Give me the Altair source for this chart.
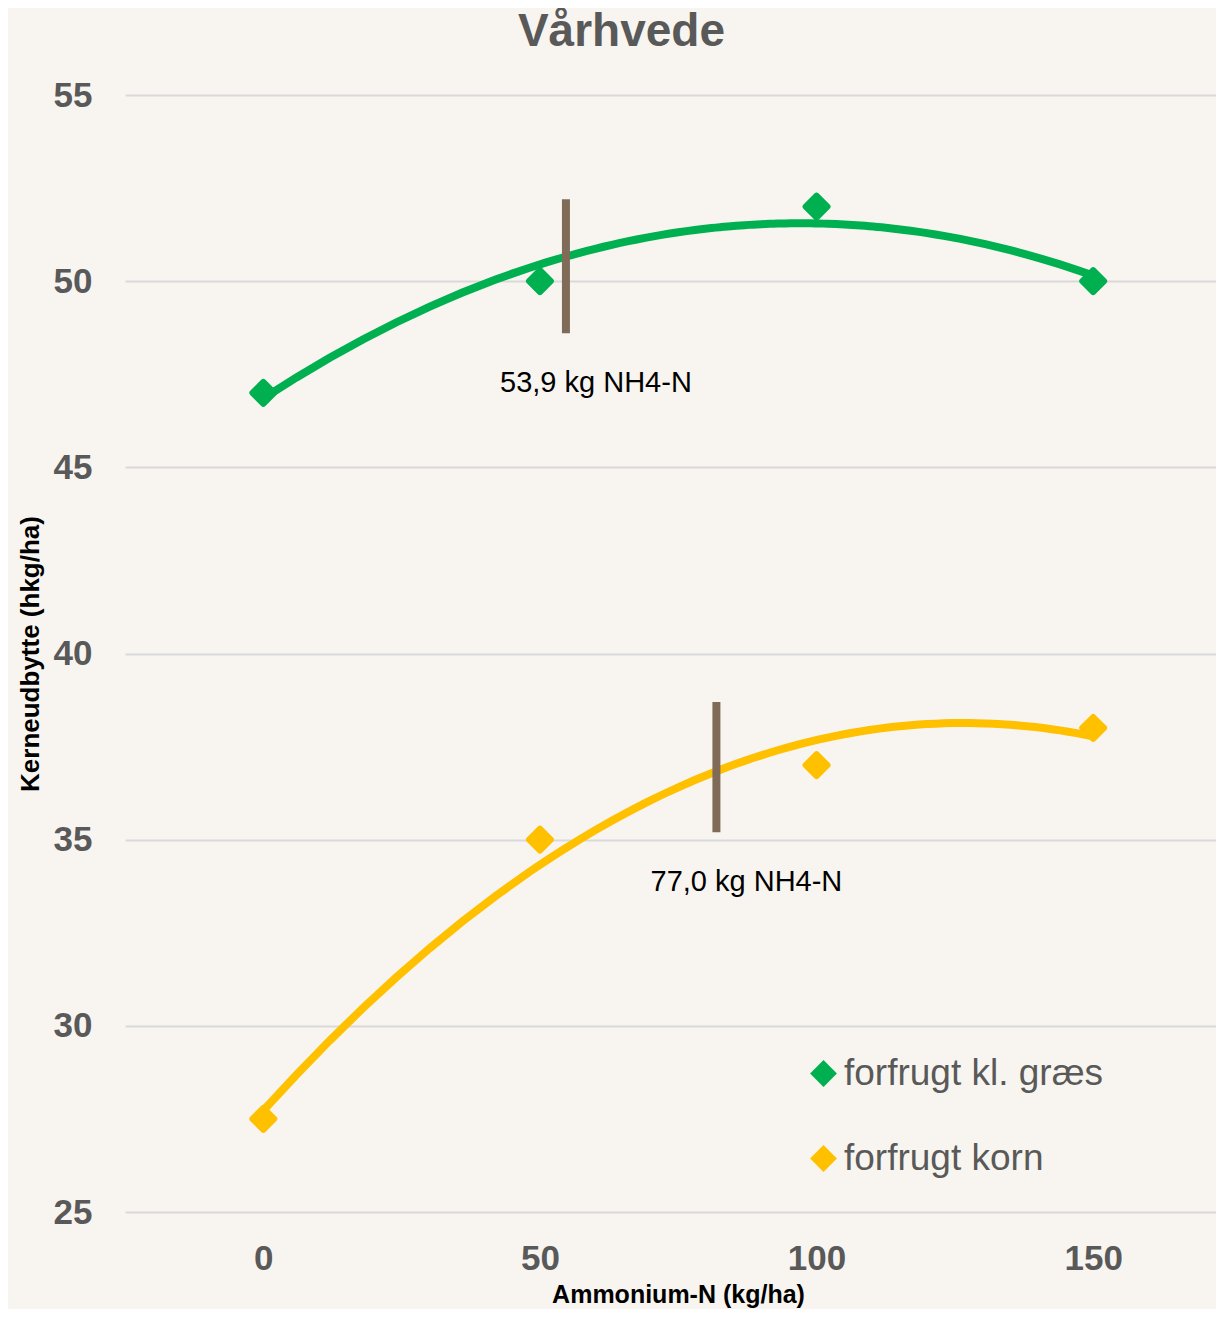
import altair as alt
import pandas as pd

# ---- data ----
n_levels = [0, 50, 100, 150]
series_names = ["forfrugt kl. græs", "forfrugt korn"]
yield_graes = [47, 50, 52, 50]
yield_korn = [27.5, 35, 37, 38]

opt_x = [54.7, 81.9]
opt_lo = [48.6, 35.2]
opt_hi = [52.2, 38.7]
opt_label = ["53,9 kg NH4-N", "77,0 kg NH4-N"]

x_ticks = [0, 50, 100, 150]
y_ticks = [25, 30, 35, 40, 45, 50, 55]

colors = ["#00B050", "#FFC000"]

rows = []
for s, ys in zip(series_names, [yield_graes, yield_korn]):
    for n, v in zip(n_levels, ys):
        rows.append({"N": n, "yield": v, "series": s})
df_pts = pd.DataFrame(rows)
df_opt = pd.DataFrame({"N": opt_x, "yield": opt_lo, "yield2": opt_hi, "label": opt_label})

FONT = "Liberation Sans"
GRAY = "#595959"

x_enc = alt.X(
    "N:Q",
    scale=alt.Scale(domain=[-25, 172.2], nice=False, zero=False),
    axis=alt.Axis(
        values=x_ticks, title="Ammonium-N (kg/ha)", titleFontSize=25, titleFontWeight="bold",
        titleColor="black", labelFontSize=35, labelFontWeight="bold", labelColor=GRAY,
        labelPadding=29, ticks=False, domain=False, grid=False, titlePadding=6, titleX=553,
    ),
)
y_enc = alt.Y(
    "yield:Q",
    scale=alt.Scale(domain=[25, 55], nice=False, zero=False),
    axis=alt.Axis(
        values=y_ticks, title="Kerneudbytte (hkg/ha)", titleFontSize=26, titleFontWeight="bold",
        titleColor="black", labelFontSize=35, labelFontWeight="bold", labelColor=GRAY,
        labelPadding=33, ticks=False, domain=False, grid=True, gridColor="#D9D9D9",
        gridWidth=2, titlePadding=10,
    ),
)

# fill (legend) scale and a stroke scale listed in the other order, so the
# two legends are not merged (the stroke one is hidden)
fill_scale = alt.Scale(domain=series_names, range=colors)
stroke_scale = alt.Scale(domain=series_names[::-1], range=colors[::-1])

base = alt.Chart(df_pts)

curves = base.transform_regression(
    "N", "yield", method="poly", order=2, groupby=["series"]
).mark_line(strokeWidth=8, strokeCap="round").encode(
    x=x_enc,
    y=y_enc,
    stroke=alt.Stroke("series:N", scale=stroke_scale, legend=None),
)

# rounded outline of the diamonds
outlines = base.mark_point(
    shape="diamond", filled=False, size=480, strokeWidth=6, strokeJoin="round", opacity=1
).encode(
    x="N:Q",
    y="yield:Q",
    stroke=alt.Stroke("series:N", scale=stroke_scale, legend=None),
)

points = base.mark_point(
    shape="diamond", filled=True, size=480, opacity=1
).encode(
    x="N:Q",
    y="yield:Q",
    fill=alt.Fill(
        "series:N", scale=fill_scale, sort=series_names,
        legend=alt.Legend(
            orient="none", legendX=680, legendY=960, title=None, labelFontSize=37,
            labelColor=GRAY, labelFont=FONT, labelLimit=0, symbolType="diamond",
            symbolSize=720, rowPadding=47, labelOffset=2, padding=0, symbolOpacity=1,
            symbolStrokeWidth=0,
        ),
    ),
)

rules = alt.Chart(df_opt).mark_rule(strokeWidth=8, color="#7F6B57").encode(
    x="N:Q", y="yield:Q", y2="yield2:Q"
)

labels = alt.Chart(df_opt).mark_text(
    fontSize=29, color="black", dx=30, dy=50, align="center", baseline="middle", font=FONT
).encode(x="N:Q", y="yield:Q", text="label:N")

chart = alt.layer(curves, outlines, points, rules, labels).properties(
    width=1091,
    height=1117,
    autosize=alt.AutoSizeParams(type="none"),
    padding={"left": 117, "top": 87, "right": 0, "bottom": 97},
    title=alt.TitleParams(
        "Vårhvede", fontSize=46, fontWeight="bold", color=GRAY, anchor="middle",
        dx=-49, offset=22, font=FONT,
    ),
).configure(
    background="#F8F5F0", font=FONT
).configure_view(stroke=None)

chart.save("out.html", embed_options={"renderer": "svg", "actions": False})
